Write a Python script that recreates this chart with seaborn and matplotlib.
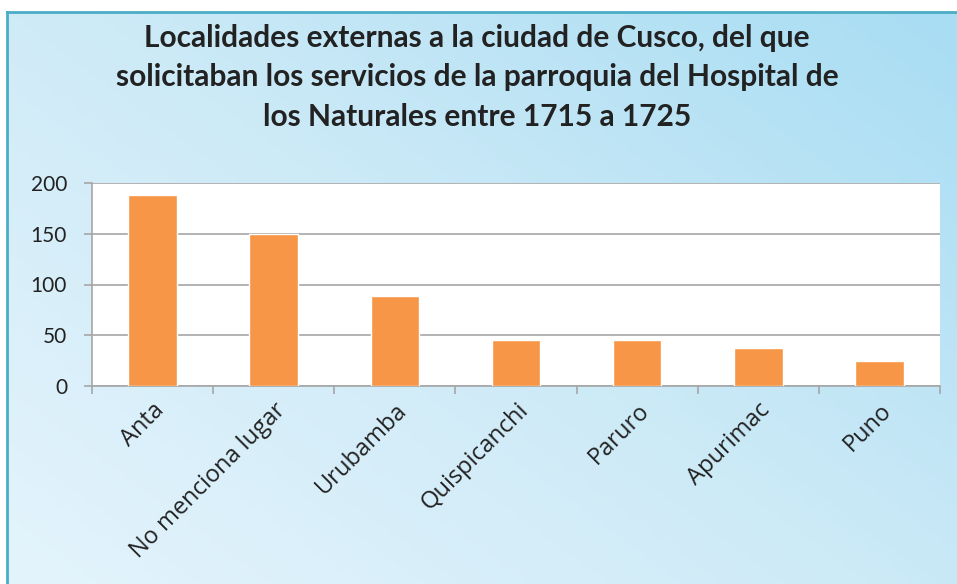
import numpy as np
import pandas as pd
import seaborn as sns
import matplotlib.pyplot as plt
from matplotlib.colors import LinearSegmentedColormap

localidades = ['Anta', 'No menciona lugar', 'Urubamba', 'Quispicanchi',
               'Paruro', 'Apurimac', 'Puno']
solicitudes = [188, 150, 89, 45, 45, 37, 25]
yticks = [0, 50, 100, 150, 200]

titulo = ('Localidades externas a la ciudad de Cusco, del que\n'
          'solicitaban los servicios de la parroquia del Hospital de\n'
          'los Naturales entre 1715 a 1725')

df = pd.DataFrame({'localidad': localidades, 'n': solicitudes})

sns.set_style('white')
plt.rcParams['font.family'] = ['Lato', 'DejaVu Sans']

W, H = 957, 584
fig = plt.figure(figsize=(W / 100, H / 100), dpi=100, facecolor='white')

# background panel with gradient
bg = fig.add_axes([7 / W, 0, (W - 7) / W, (H - 12) / H])
xx, yy = np.meshgrid(np.linspace(0, 1, 200), np.linspace(0, 1, 200))
grad = (xx * 0.55 + yy * 0.45)
cmap = LinearSegmentedColormap.from_list('bg', ['#E4F4FC', '#CDEAF7', '#A8DDF3'])
bg.imshow(grad, cmap=cmap, origin='lower', extent=[0, 1, 0, 1], aspect='auto')
bg.set_xlim(0, 1)
bg.set_ylim(0, 1)
bg.set_xticks([])
bg.set_yticks([])
for s in ['right', 'bottom']:
    bg.spines[s].set_visible(False)
for s in ['left', 'top']:
    bg.spines[s].set_color('#4BACC6')
    bg.spines[s].set_linewidth(2)

fig.text(477 / W, 1 - 77 / H, titulo, ha='center', va='center',
         fontsize=21.5, fontweight='bold', color='#222222', linespacing=1.5)

ax = fig.add_axes([92 / W, (H - 386) / H, (940 - 92) / W, (386 - 183) / H])
ax.set_facecolor('white')
sns.barplot(data=df, x='localidad', y='n', color='#F79646', width=0.4,
            saturation=1, ax=ax, zorder=3)
ax.set_xlim(-0.5, len(localidades) - 0.5)
ax.set_ylim(0, 200)
ax.set_yticks(yticks)
ax.set_xlabel('')
ax.set_ylabel('')
ax.yaxis.grid(True, color='#A6A6A6', linewidth=1.2, zorder=0)
ax.set_axisbelow(True)
for s in ['top', 'right']:
    ax.spines[s].set_visible(False)
for s in ['left', 'bottom']:
    ax.spines[s].set_color('#A6A6A6')
    ax.spines[s].set_linewidth(1.2)

ax.tick_params(axis='y', length=6, width=1.2, color='#A6A6A6', direction='out',
               labelsize=15, labelcolor='#222222', pad=12, left=True)
ax.set_xticks(np.arange(-0.5, len(localidades), 1), minor=True)
ax.tick_params(axis='x', which='minor', length=6, width=1.2, color='#A6A6A6',
               direction='out', bottom=True)
ax.tick_params(axis='x', which='major', length=0, pad=9)
ax.set_xticks(range(len(localidades)))
ax.set_xticklabels(localidades, rotation=45, ha='right', rotation_mode='anchor',
                   fontsize=17, color='#222222', family=['Open Sans', 'DejaVu Sans'])

fig.savefig('out.png', dpi=100, facecolor='white')
